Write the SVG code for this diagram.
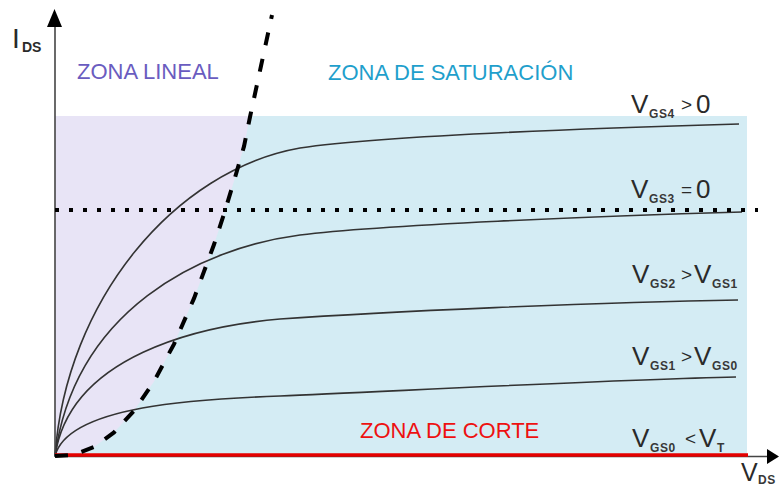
<svg xmlns="http://www.w3.org/2000/svg" width="779" height="487" viewBox="0 0 779 487">
<style>
.curve{fill:none;stroke:#333;stroke-width:1.6}
.lbl{font-family:"Liberation Sans",Arial,sans-serif;fill:#2a2a2a}
.big{font-size:26px}
.sub{font-size:12px;font-weight:bold;letter-spacing:0.6px;fill:#383838}
.op{font-size:19px}
.zone{font-family:"Liberation Sans",Arial,sans-serif;font-size:22px}
</style>
<rect width="779" height="487" fill="#fff"/>
<g id="regions">
<rect x="55" y="116" width="692" height="340" fill="#d4ecf4"/>
<path d="M55,116 L250,116 L244,146.4 L234,181 L224,214 L214,244.5 L194,298.4 L174,344.1 L154,381.4 L134,410.7 L114,432.4 L94,447 L74,454.8 L55,456 Z" fill="#e8e4f6"/>
</g>
<g id="curves">
<path class="curve" d="M55,456 C66,300 175,170 300,148 C380,136 599,128 739,124"/>
<path class="curve" d="M55,456 C75,310 200,248 300,235 C380,225 600,216 742,212"/>
<path class="curve" d="M55,456 C70,355 200,326 280,319 C380,312 600,302 738,300"/>
<path class="curve" d="M55,456 C68,405 200,399 280,396 C380,392 600,380 736,377"/>
</g>
<g id="axes">
<line x1="55" y1="457" x2="55" y2="24" stroke="#444" stroke-width="1.6"/>
<path d="M54.5,9 L62,27 L47,27 Z" fill="#000"/>
<line x1="55" y1="456.5" x2="768" y2="456.5" stroke="#444" stroke-width="1.6"/>
<path d="M779,456.5 L767,449 L767,464 Z" fill="#000"/>
<line x1="55" y1="455" x2="748" y2="455" stroke="#e50000" stroke-width="3.5"/>
</g>
<g id="connectors">
<polyline fill="none" stroke="#000" stroke-width="4" stroke-dasharray="13 14" points="55,456 74,454.8 94,447 114,432.4 134,410.7 154,381.4 174,344.1 194,298.4 214,244.5 224,214 234,181 244,146.4 250,117 261,66 272,15"/>
<line x1="55" y1="210" x2="758" y2="210" stroke="#000" stroke-width="4" stroke-dasharray="4 10"/>
</g>
<g id="axis-labels" class="lbl">
<text x="12" y="48" font-size="28">I</text>
<text x="22" y="52" font-size="14" font-weight="bold">DS</text>
<text x="741" y="481" font-size="25">V</text>
<text x="758" y="484" class="sub" letter-spacing="0">DS</text>
</g>
<g id="zones">
<text x="77" y="79" class="zone" fill="#6a5cc0">ZONA LINEAL</text>
<text x="328" y="80" class="zone" fill="#1f9fcc">ZONA DE SATURACIÓN</text>
<text x="360" y="438" class="zone" fill="#ee1111">ZONA DE CORTE</text>
</g>
<g id="vgs4" class="lbl">
<text x="631" y="113" class="big">V</text><text x="649" y="118" class="sub">GS4</text>
<text x="681" y="111" class="op">&gt;</text><text x="696" y="113" class="big">0</text>
</g>
<g id="vgs3" class="lbl">
<text x="631" y="198" class="big">V</text><text x="649" y="203" class="sub">GS3</text>
<text x="681" y="196" class="op">=</text><text x="696" y="198" class="big">0</text>
</g>
<g id="vgs2" class="lbl">
<text x="632" y="283" class="big">V</text><text x="650" y="288" class="sub">GS2</text>
<text x="681" y="281" class="op">&gt;</text><text x="694" y="283" class="big">V</text><text x="712" y="288" class="sub">GS1</text>
</g>
<g id="vgs1" class="lbl">
<text x="632" y="365" class="big">V</text><text x="650" y="370" class="sub">GS1</text>
<text x="681" y="363" class="op">&gt;</text><text x="694" y="365" class="big">V</text><text x="712" y="370" class="sub">GS0</text>
</g>
<g id="vgs0" class="lbl">
<text x="632" y="447" class="big">V</text><text x="650" y="452" class="sub">GS0</text>
<text x="685" y="445" class="op">&lt;</text><text x="699" y="447" class="big">V</text><text x="717" y="452" class="sub">T</text>
</g>
</svg>
